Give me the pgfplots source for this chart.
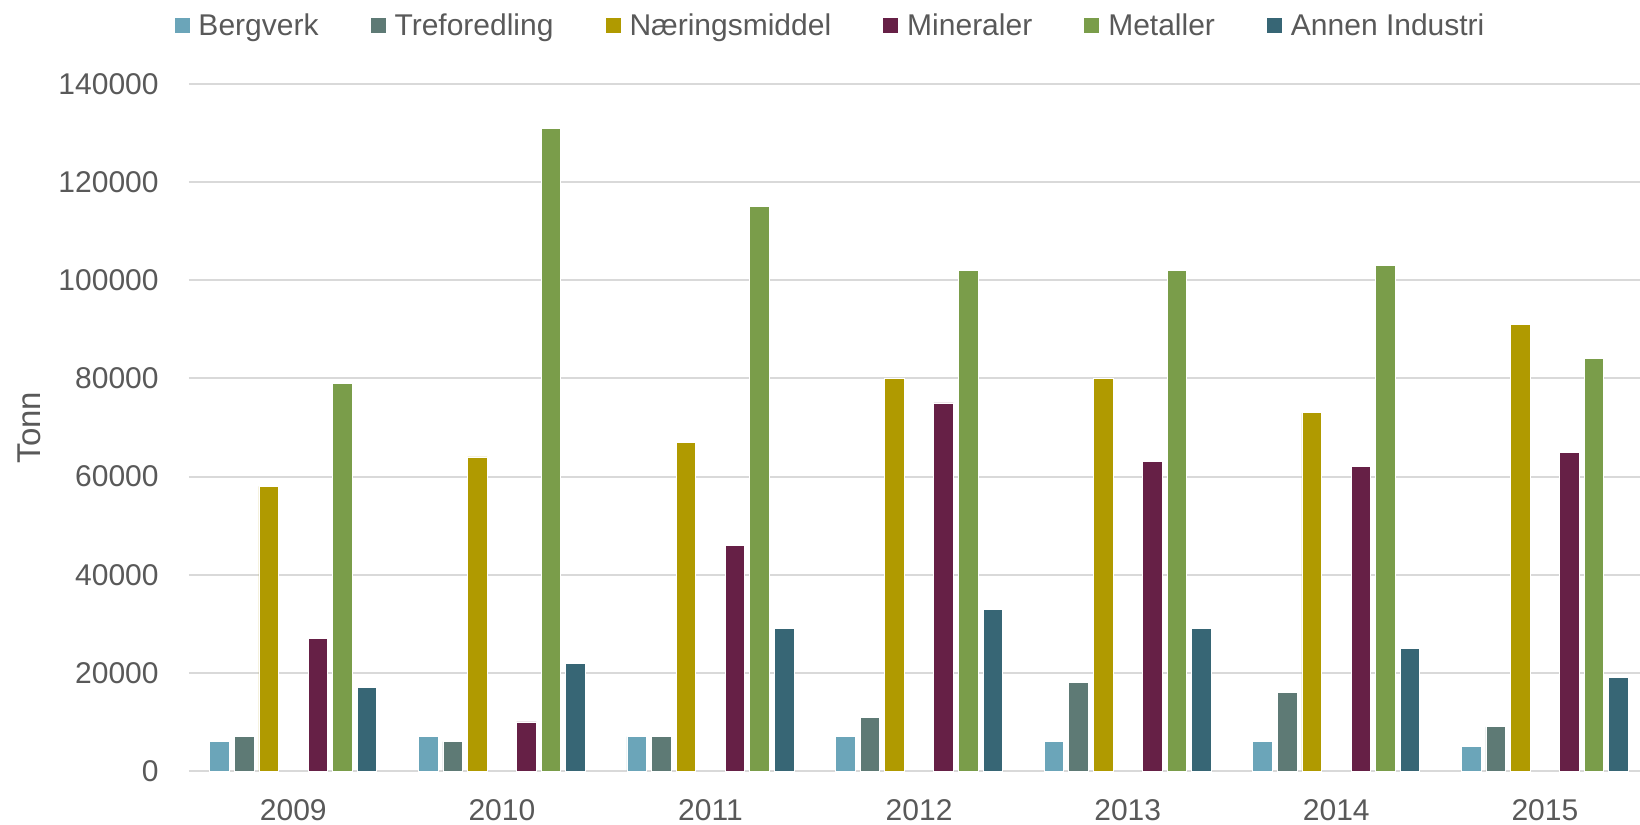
\documentclass[border=0pt]{standalone}
\usepackage{fontspec}
\setmainfont{Liberation Sans}
\usepackage{pgfplots}
\usepackage{pgfplotstable}
\pgfplotsset{compat=1.18}

\definecolor{cBerg}{HTML}{6BA5B9}
\definecolor{cTref}{HTML}{5E7A75}
\definecolor{cNaer}{HTML}{B09A00}
\definecolor{cMine}{HTML}{662046}
\definecolor{cMeta}{HTML}{7A9D4A}
\definecolor{cAnne}{HTML}{376675}
\definecolor{txtgray}{HTML}{595959}
\definecolor{gridgray}{HTML}{D9D9D9}

% x = 0..6 stands for 2009..2015
\pgfplotstableread{
x berg tref naer mine meta anne
0 6000 7000 58000 27000 79000 17000
1 7000 6000 64000 10000 131000 22000
2 7000 7000 67000 46000 115000 29000
3 7000 11000 80000 75000 102000 33000
4 6000 18000 80000 63000 102000 29000
5 6000 16000 73000 62000 103000 25000
6 5000 9000 91000 65000 84000 19000
}\tonn

\begin{document}
\begin{tikzpicture}
\begin{axis}[
  name=ax,
  scale only axis,
  width=725.5pt, height=343.5pt,
  ybar, bar width=0.094,
  xmin=-0.5, xmax=6.456,
  ymin=0, ymax=140000,
  ytick={0,20000,...,140000},
  xtick=data,
  xticklabels={2009,2010,2011,2012,2013,2014,2015},
  major tick length=0pt,
  axis line style={draw=none},
  ymajorgrids,
  major grid style={draw=gridgray, line width=1pt},
  /pgf/number format/.cd, fixed, 1000 sep={}, assume math mode=true,
  /pgfplots/.cd,
  scaled y ticks=false,
  tick label style={font=\fontsize{15}{18}\selectfont, text=txtgray, inner sep=0pt},
  yticklabel style={xshift=-15pt},
  xticklabel style={yshift=-14pt},
  every axis y label/.style={at={(axis description cs:-0.102,0.5)}, anchor=base, rotate=90,
    font=\fontsize{16.5}{19}\selectfont, text=txtgray},
  ylabel={Tonn},
  legend columns=-1,
  legend style={at={(axis description cs:0.4425,1.0847)}, anchor=center,
    draw=none, fill=none, font=\fontsize{15}{18}\selectfont, text=txtgray,
    /tikz/every even column/.append style={column sep=23.6pt}},
  legend image code/.code={\fill[#1] (0pt,-4pt) rectangle (8pt,4pt); \path (10pt,0pt);},
  every axis plot/.append style={draw=white, line width=0.4pt},
]
\addplot[fill=cBerg, bar shift=-0.3534] table[x=x, y=berg] {\tonn};
\addplot[fill=cTref, bar shift=-0.2356] table[x=x, y=tref] {\tonn};
\addplot[fill=cNaer, bar shift=-0.1178] table[x=x, y=naer] {\tonn};
\addplot[fill=cMine, bar shift=0.1178] table[x=x, y=mine] {\tonn};
\addplot[fill=cMeta, bar shift=0.2356] table[x=x, y=meta] {\tonn};
\addplot[fill=cAnne, bar shift=0.3534] table[x=x, y=anne] {\tonn};
\legend{Bergverk, Treforedling, Næringsmiddel, Mineraler, Metaller, Annen Industri}
\end{axis}
\pgfresetboundingbox
\path[use as bounding box] ([xshift=-94.5pt,yshift=-27pt]ax.south west) rectangle ([yshift=42pt]ax.north east);
\end{tikzpicture}
\end{document}
